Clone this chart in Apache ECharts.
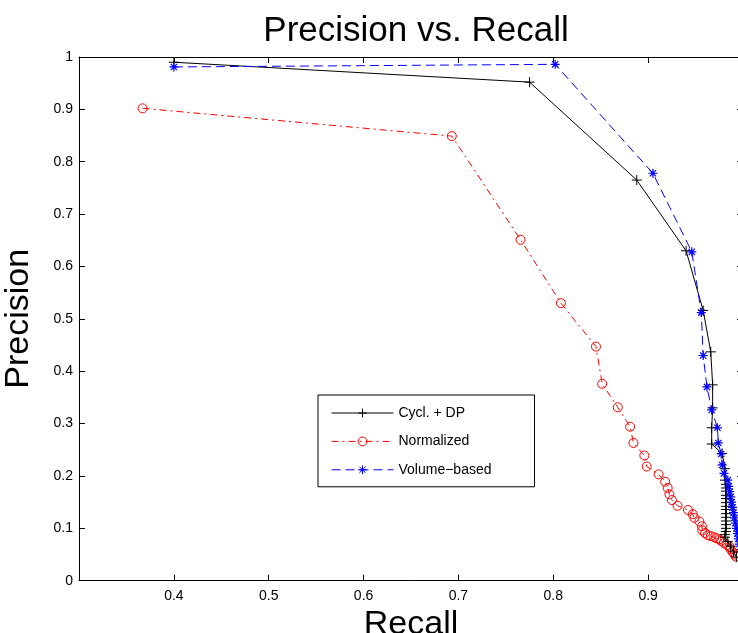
<!DOCTYPE html>
<html>
<head>
<meta charset="utf-8">
<script src="https://cdn.jsdelivr.net/npm/echarts@6/dist/echarts.min.js"></script>
<style>
  html, body { margin: 0; padding: 0; background: #fff; }
  #chart { width: 738px; height: 633px; }
</style>
</head>
<body>
<div id="chart"></div>
<script>
// Precision / recall curves for three methods: [recall, precision]
const seriesNames = ['Cycl. + DP', 'Normalized', 'Volume\u2212based'];

const cyclDP = [
  [0.400, 0.990], [0.775, 0.952], [0.888, 0.765], [0.940, 0.630], [0.958, 0.516],
  [0.966, 0.437], [0.968, 0.374], [0.968, 0.330], [0.967, 0.292], [0.967, 0.261],
  [0.978, 0.243], [0.981, 0.214], [0.981, 0.192], [0.982, 0.184], [0.982, 0.177],
  [0.982, 0.171], [0.982, 0.163], [0.982, 0.157], [0.982, 0.149], [0.982, 0.142],
  [0.982, 0.136], [0.982, 0.128], [0.982, 0.121], [0.982, 0.114], [0.982, 0.107],
  [0.982, 0.100], [0.982, 0.094], [0.981, 0.088], [0.981, 0.083], [0.984, 0.075],
  [0.987, 0.066], [0.990, 0.055], [0.993, 0.045]
];

const normalized = [
  [0.367, 0.902], [0.693, 0.849], [0.7655, 0.651], [0.808, 0.530], [0.845, 0.447],
  [0.8515, 0.376], [0.868, 0.331], [0.881, 0.294], [0.8845, 0.263], [0.896, 0.239],
  [0.8985, 0.218], [0.911, 0.203], [0.918, 0.189], [0.9206, 0.177], [0.9224, 0.165],
  [0.925, 0.154], [0.931, 0.143], [0.942, 0.135], [0.947, 0.127], [0.9487, 0.120],
  [0.954, 0.113], [0.9567, 0.104], [0.957, 0.096], [0.960, 0.091], [0.9627, 0.087],
  [0.966, 0.085], [0.9697, 0.083], [0.972, 0.081], [0.975, 0.079], [0.977, 0.076],
  [0.980, 0.072], [0.983, 0.068], [0.9857, 0.065], [0.987, 0.060], [0.989, 0.055],
  [0.991, 0.050], [0.9925, 0.046]
];

const volumeBased = [
  [0.400, 0.981], [0.802, 0.986], [0.905, 0.778], [0.946, 0.628], [0.956, 0.512],
  [0.958, 0.430], [0.962, 0.370], [0.967, 0.326], [0.973, 0.292], [0.974, 0.263],
  [0.977, 0.242], [0.978, 0.221], [0.980, 0.205], [0.984, 0.192], [0.985, 0.180],
  [0.986, 0.170], [0.987, 0.160], [0.988, 0.150], [0.989, 0.140], [0.990, 0.130],
  [0.991, 0.120], [0.992, 0.110], [0.993, 0.100], [0.994, 0.090], [0.995, 0.080],
  [0.996, 0.070], [0.998, 0.060]
];

// Axis ranges and tick spacing
const xRange = [0.3, 1.0];
const yRange = [0, 1];
const tickStep = 0.1;

const FONT = '"Liberation Sans", Arial, Helvetica, sans-serif';

// Marker outlines (stroked paths)
const plusMark = 'path://M5,0L5,10M0,5L10,5';
const starMark = 'path://M5,0L5,10M0,5L10,5M1.5,1.5L8.5,8.5M8.5,1.5L1.5,8.5';

const chart = echarts.init(document.getElementById('chart'), null, { renderer: 'canvas' });

const boxAxis = (extra) => Object.assign({
  type: 'value',
  interval: tickStep,
  axisLine: { show: true, onZero: false, lineStyle: { color: '#000', width: 1 } },
  axisTick: { show: true, inside: true, length: 6, lineStyle: { color: '#000', width: 1 } },
  splitLine: { show: false },
  axisLabel: { show: false }
}, extra);

chart.setOption({
  animation: false,
  backgroundColor: '#fff',
  title: {
    text: 'Precision vs. Recall',
    left: 411,
    top: 9,
    textAlign: 'center',
    textStyle: { fontFamily: FONT, fontSize: 35, fontWeight: 'normal', color: '#000' }
  },
  grid: {
    left: 79, top: 57, width: 664, height: 523.7,
    containLabel: false, outerBoundsMode: 'none'
  },
  legend: {
    orient: 'vertical',
    left: 318,
    top: 395,
    padding: [11, 43, 10, 13],
    itemWidth: 62,
    itemHeight: 11,
    itemGap: 14.4,
    borderColor: '#000',
    borderWidth: 1,
    borderRadius: 0,
    backgroundColor: '#fff',
    lineStyle: { width: 1 },
    itemStyle: { borderWidth: 1 },
    textStyle: { fontFamily: FONT, fontSize: 14, color: '#000' },
    data: seriesNames
  },
  xAxis: [
    boxAxis({
      min: xRange[0], max: xRange[1], position: 'bottom',
      name: 'Recall', nameLocation: 'middle', nameGap: 18,
      nameTextStyle: { fontFamily: FONT, fontSize: 34, color: '#000' },
      axisLabel: { show: true, showMinLabel: false, showMaxLabel: false, margin: 8, fontFamily: FONT, fontSize: 14, color: '#000' }
    }),
    boxAxis({ min: xRange[0], max: xRange[1], position: 'top' })
  ],
  yAxis: [
    boxAxis({
      min: yRange[0], max: yRange[1], position: 'left',
      name: 'Precision', nameLocation: 'middle', nameGap: 43,
      nameTextStyle: { fontFamily: FONT, fontSize: 34, color: '#000' },
      axisLabel: { show: true, margin: 6, fontFamily: FONT, fontSize: 14, color: '#000' }
    }),
    boxAxis({ min: yRange[0], max: yRange[1], position: 'right' })
  ],
  series: [
    {
      name: seriesNames[0], type: 'line', data: cyclDP, xAxisIndex: 0, yAxisIndex: 0,
      symbol: plusMark, symbolSize: 10, showAllSymbol: true, clip: true,
      lineStyle: { color: '#000', width: 1, type: 'solid' },
      itemStyle: { color: 'rgba(0,0,0,0)', borderColor: '#000', borderWidth: 1 },
      emphasis: { disabled: true }, z: 3
    },
    {
      name: seriesNames[1], type: 'line', data: normalized, xAxisIndex: 0, yAxisIndex: 0,
      symbol: 'circle', symbolSize: 9, showAllSymbol: true, clip: true,
      lineStyle: { color: '#ff0000', width: 1, type: [7, 4, 2, 4] },
      itemStyle: { color: 'rgba(0,0,0,0)', borderColor: '#ff0000', borderWidth: 1 },
      emphasis: { disabled: true }, z: 2
    },
    {
      name: seriesNames[2], type: 'line', data: volumeBased, xAxisIndex: 0, yAxisIndex: 0,
      symbol: starMark, symbolSize: 9, showAllSymbol: true, clip: true,
      lineStyle: { color: '#0000ff', width: 1, type: [9, 5] },
      itemStyle: { color: 'rgba(0,0,0,0)', borderColor: '#0000ff', borderWidth: 1.2 },
      emphasis: { disabled: true }, z: 4
    }
  ]
});
</script>
</body>
</html>
